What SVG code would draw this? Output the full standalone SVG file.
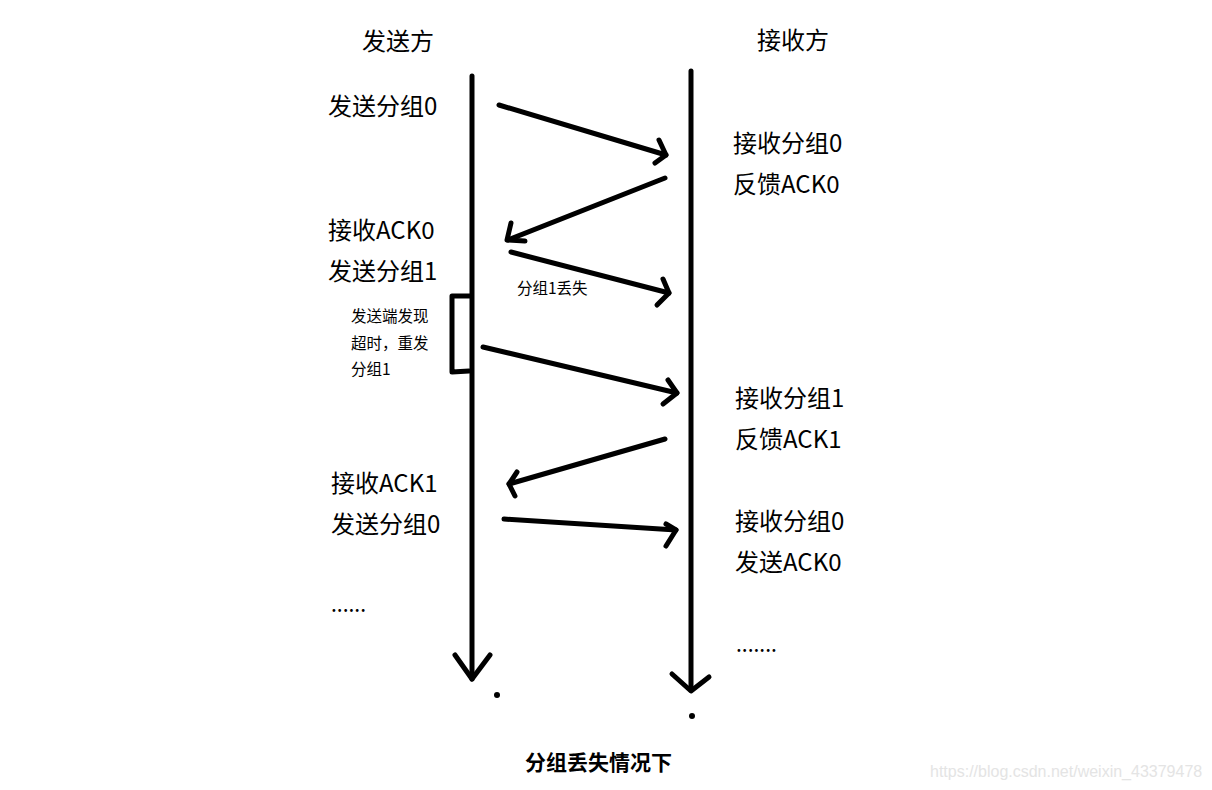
<svg xmlns="http://www.w3.org/2000/svg" width="1212" height="790" viewBox="0 0 1212 790">
<style>
.t{font-family:"Noto Sans CJK SC","Liberation Sans",sans-serif;fill:#000}
.big{font-size:24px}
.sm{font-size:15.5px}
.dots{font-size:21px}
.ln{stroke:#000;stroke-width:5;fill:none;stroke-linecap:round;stroke-linejoin:round}
</style>
<rect width="1212" height="790" fill="#fff"/>
<g id="sender-lifeline">
<line class="ln" x1="472" y1="76" x2="472" y2="679"/>
<polyline class="ln" points="455,655 472,679 490,655"/>
<circle cx="497" cy="695" r="3" fill="#000"/>
<text class="t big" x="362" y="50">发送方</text>
</g>
<g id="receiver-lifeline">
<line class="ln" x1="691" y1="71" x2="691" y2="690"/>
<polyline class="ln" points="672,674 691,691 709,677"/>
<circle cx="692" cy="716" r="3" fill="#000"/>
<text class="t big" x="757" y="49">接收方</text>
</g>
<g id="sender-labels">
<text class="t big" x="328" y="115">发送分组0</text>
<text class="t big" x="328" y="239">接收ACK0</text>
<text class="t big" x="328" y="280">发送分组1</text>
<text class="t big" x="331" y="492">接收ACK1</text>
<text class="t big" x="331" y="533">发送分组0</text>
<text class="t dots" x="331" y="612">......</text>
</g>
<g id="receiver-labels">
<text class="t big" x="733" y="152">接收分组0</text>
<text class="t big" x="733" y="193">反馈ACK0</text>
<text class="t big" x="735" y="407">接收分组1</text>
<text class="t big" x="735" y="448">反馈ACK1</text>
<text class="t big" x="735" y="530">接收分组0</text>
<text class="t big" x="735" y="571">发送ACK0</text>
<text class="t dots" x="736" y="652">.......</text>
</g>
<g id="timeout">
<polyline class="ln" points="471,296 452,296 452,372 469,371"/>
<text class="t sm" x="351" y="322">发送端发现</text>
<text class="t sm" x="351" y="349">超时，重发</text>
<text class="t sm" x="351" y="375">分组1</text>
</g>
<g id="loss-label">
<text class="t sm" x="517" y="294">分组1丢失</text>
</g>
<g id="connectors">
<line class="ln" x1="499" y1="105" x2="666" y2="155"/>
<polyline class="ln" points="659,140 666,155 655,163"/>
<line class="ln" x1="665" y1="178" x2="508" y2="240"/>
<polyline class="ln" points="511,223 507,240 525,241"/>
<line class="ln" x1="511" y1="252" x2="669" y2="293"/>
<polyline class="ln" points="663,279 669,293 657,305"/>
<line class="ln" x1="483" y1="347" x2="677" y2="393"/>
<polyline class="ln" points="668,380 677,393 663,404"/>
<line class="ln" x1="665" y1="439" x2="509" y2="484"/>
<polyline class="ln" points="517,472 509,484 515,496"/>
<line class="ln" x1="504" y1="519" x2="676" y2="530"/>
<polyline class="ln" points="666,524 676,530 666,546"/>
</g>
<g id="caption">
<text class="t" x="525" y="770" font-size="21" font-weight="bold">分组丢失情况下</text>
</g>
<text x="930" y="777" font-family="'Liberation Sans',sans-serif" font-size="16" fill="#e4e4e4">https://blog.csdn.net/weixin_43379478</text>
</svg>
